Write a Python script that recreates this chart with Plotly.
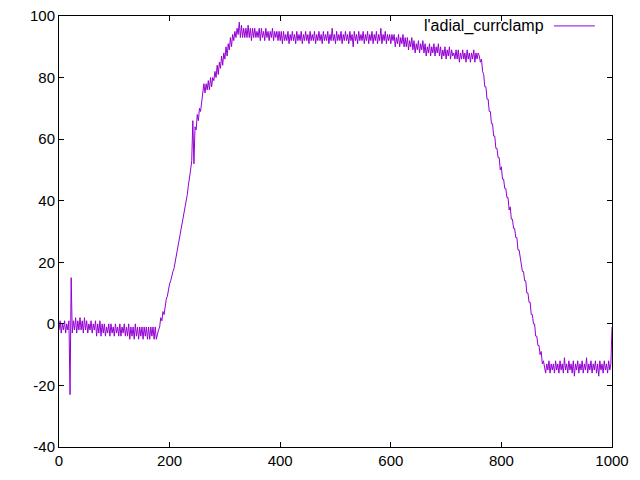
import plotly.graph_objects as go

# sample index (x): every 2 units from 0 to 1000
x_step = 2
x_values = list(range(0, 1001, x_step))

# signal values, one per x sample
seg_flat_start = [
    -2, 1, -3, 0, -2, 1, -3, 0, -2, 1,          # 0..18
    -23, 15, -3, 1, -2, 2, -3, 1, -2, 2,        # 20..38
    -2, 1, -3, 2, -2, 1, -3, 0, -2, 1,          # 40..58
    -3, 0, -2, 1, -4, 0, -3, 1, -4, 0,          # 60..78
    -3, 0, -4, -1, -3, 0, -4, 0, -3, -1,        # 80..98
    -4, 0, -3, -1, -4, 0, -4, -1, -3, 0,        # 100..118
    -4, -1, -4, 0, -5, -1, -4, -1, -5, 0,       # 120..138
    -4, -1, -5, -1, -4, -1, -5, -1, -4, -1,     # 140..158
    -5, -1, -5, -1, -4, -1, -5, -1, -5, -3,     # 160..178
    -2, -1, 2, 1, 4, 3, 6, 8, 9, 12,            # 180..198
]
seg_ramp_up = [
    13, 14, 16, 17, 18, 20, 21, 23, 25, 27,     # 200..218
    29, 31, 33, 35, 37, 40, 42, 45, 47, 50,     # 220..238
    53, 66, 52, 64, 63, 68, 66, 70, 69, 72,     # 240..258
    74, 78, 75, 78, 76, 79, 76, 80, 77, 80,     # 260..278
    79, 82, 80, 84, 81, 85, 83, 87, 84, 88,     # 280..298
    86, 90, 87, 91, 89, 93, 90, 94, 92, 95,     # 300..318
]
seg_plateau = [
    93, 96, 94, 98, 93, 97, 93, 96, 93, 96,     # 320..338
    93, 97, 93, 96, 92, 96, 93, 96, 93, 95,     # 340..358
    93, 96, 92, 96, 93, 95, 92, 96, 93, 95,     # 360..378
    92, 95, 93, 96, 92, 95, 93, 95, 92, 95,     # 380..398
    92, 95, 91, 95, 92, 94, 92, 95, 91, 94,     # 400..418
    92, 95, 92, 94, 91, 95, 92, 94, 92, 95,     # 420..438
    91, 94, 92, 95, 92, 94, 91, 95, 92, 94,     # 440..458
    92, 95, 91, 94, 92, 95, 92, 94, 91, 95,     # 460..478
    92, 94, 92, 95, 91, 94, 92, 96, 92, 94,     # 480..498
    91, 95, 92, 94, 92, 95, 91, 94, 92, 95,     # 500..518
    92, 94, 91, 95, 92, 94, 90, 95, 92, 94,     # 520..538
    91, 95, 92, 94, 92, 95, 91, 94, 92, 95,     # 540..558
    91, 94, 92, 95, 91, 94, 92, 95, 91, 94,     # 560..578
    92, 96, 91, 94, 92, 95, 91, 94, 92, 94,     # 580..598
    91, 94, 92, 94, 90, 93, 91, 94, 90, 93,     # 600..618
    91, 94, 90, 93, 90, 93, 89, 92, 90, 93,     # 620..638
    89, 92, 88, 91, 89, 92, 88, 91, 89, 92,     # 640..658
    88, 91, 87, 90, 88, 91, 87, 90, 88, 91,     # 660..678
    87, 90, 88, 91, 87, 90, 86, 89, 87, 90,     # 680..698
    86, 89, 87, 90, 86, 89, 87, 88, 86, 89,     # 700..718
    86, 89, 85, 88, 86, 89, 86, 88, 85, 89,     # 720..738
    86, 88, 85, 88, 86, 89, 85, 88, 86, 88,     # 740..758
]
seg_ramp_down = [
    87, 85, 86, 82, 81, 77, 77, 73, 73, 69,     # 760..778
    69, 65, 65, 61, 61, 57, 57, 54, 54, 50,     # 780..798
    51, 47, 47, 44, 44, 41, 41, 37, 38, 34,     # 800..818
    34, 31, 31, 28, 28, 24, 24, 21, 20, 17,     # 820..838
    17, 14, 14, 10, 10, 7, 7, 3, 3, 0,          # 840..858
    0, -4, -4, -7, -7, -10, -9, -13, -12, -15,  # 860..878
]
seg_flat_end = [
    -16, -13, -15, -12, -16, -13, -15, -13, -16, -12,   # 880..898
    -15, -13, -16, -12, -15, -13, -16, -11, -15, -13,   # 900..918
    -16, -12, -15, -13, -16, -12, -17, -13, -15, -12,   # 920..938
    -16, -13, -15, -12, -16, -13, -15, -11, -16, -13,   # 940..958
    -15, -12, -16, -13, -15, -12, -16, -13, -17, -12,   # 960..978
    -15, -13, -16, -12, -15, -13, -16, -12, -15, -13,   # 980..998
    -1,                                                 # 1000
]
y_values = seg_flat_start + seg_ramp_up + seg_plateau + seg_ramp_down + seg_flat_end

series_name = "l'adial_currclamp"
x_ticks = [0, 200, 400, 600, 800, 1000]
x_tick_text = ["0", "200", "400", "600", "800", "1000"]
y_ticks = [-40, -20, 0, 20, 40, 60, 80, 100]
y_tick_text = ["-40", "-20", "0", "20", "40", "60", "80", "100"]

LINE_COLOR = "#9400D3"
FONT = "Liberation Sans, Arial, sans-serif"

fig = go.Figure()
fig.add_trace(go.Scatter(
    x=x_values, y=y_values, mode="lines",
    line=dict(color=LINE_COLOR, width=1),
    name=series_name, showlegend=False,
))

axis_common = dict(
    showgrid=False, zeroline=False, automargin=False,
    showline=True, linecolor="black", linewidth=1, mirror="ticks",
    ticks="inside", ticklen=5, tickwidth=1, tickcolor="black",
    ticklabeloverflow="allow",
    tickfont=dict(family=FONT, size=15, color="black"),
)
fig.update_xaxes(range=[0, 1000], tickvals=x_ticks, ticktext=x_tick_text, **axis_common)
fig.update_yaxes(range=[-40, 100], tickvals=y_ticks, ticktext=y_tick_text, **axis_common)

# gnuplot-style key: text then line sample, top right inside the plot
fig.add_annotation(
    xref="paper", yref="paper", x=0.881, y=0.977,
    xanchor="right", yanchor="middle", showarrow=False,
    text=series_name, font=dict(family=FONT, size=16, color="black"),
)
fig.add_shape(
    type="line", xref="paper", yref="paper",
    x0=0.895, x1=0.969, y0=0.977, y1=0.977,
    line=dict(color=LINE_COLOR, width=1),
)

# the page body adds an 8px offset, so margins are shifted to compensate
fig.update_layout(
    width=640, height=480,
    margin=dict(l=51, r=36, t=8, b=41),
    paper_bgcolor="white", plot_bgcolor="white",
    font=dict(family=FONT, size=15, color="black"),
)

fig.write_html("out.html")
